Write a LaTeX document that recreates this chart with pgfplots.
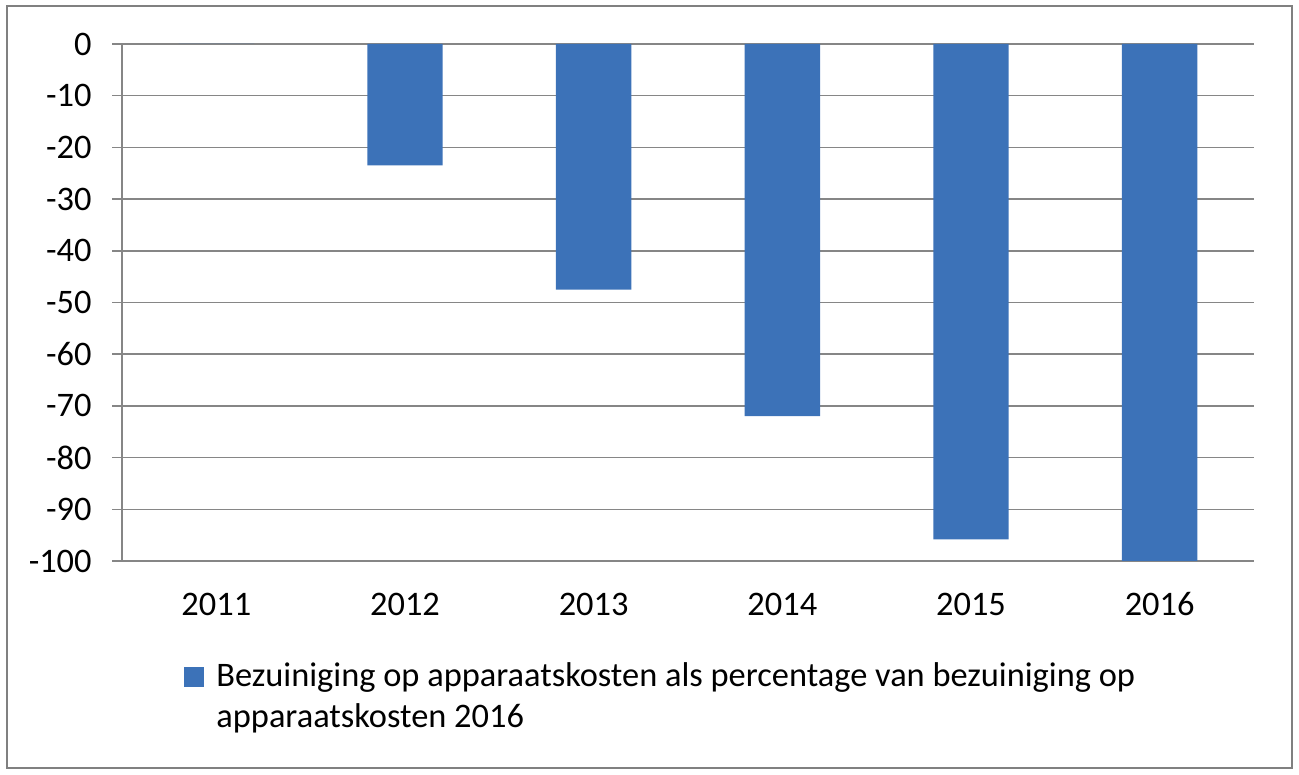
\documentclass[border=0pt]{standalone}
\usepackage{pgfplots}
\pgfplotsset{compat=1.18}
\usepackage{fontspec}
\setmainfont{Carlito}
\definecolor{barblue}{RGB}{60,114,184}
\definecolor{gridgray}{RGB}{134,134,134}
\definecolor{framegray}{RGB}{128,128,128}
\begin{document}
\fontsize{17.2bp}{20.5bp}\selectfont
\begin{tikzpicture}
\useasboundingbox (0,0) rectangle (649.5bp,387.5bp);
\draw[framegray, line width=1bp] (3.25bp,3.25bp) rectangle (645.75bp,384.5bp);
\begin{axis}[
  at={(61bp,107bp)}, anchor=south west,
  scale only axis, width=566bp, height=258.5bp,
  ybar, bar width=0.4,
  xmin=-0.5, xmax=5.5, ymin=-100, ymax=0,
  xtick={0,1,2,3,4,5},
  xticklabels={2011,2012,2013,2014,2015,2016},
  ytick={-100,-90,-80,-70,-60,-50,-40,-30,-20,-10,0},
  yticklabels={-100,-90,-80,-70,-60,-50,-40,-30,-20,-10,0},
  axis x line*=bottom, axis y line*=left,
  axis line style={-, draw=gridgray, line width=0.75bp},
  ymajorgrids, grid style={draw=gridgray, line width=0.75bp},
  tick align=outside, major tick length=5bp,
  ytick style={draw=gridgray, line width=0.75bp},
  xtick style={draw=none},
  yticklabel style={inner sep=0pt, anchor=east},
  yticklabel shift=10bp,
  xticklabel style={inner sep=0pt, anchor=base},
  xticklabel shift=22bp,
  tick label style={font=\fontsize{17.2bp}{20.5bp}\selectfont},
  legend style={at={(axis description cs:0.0548,-0.1876)}, anchor=north west,
    draw=none, fill=none, inner sep=0pt,
    font=\fontsize{17.2bp}{20.5bp}\selectfont,
    cells={anchor=north west, align=left}},
  legend image code/.code={\fill[barblue] (0bp,-14.25bp) rectangle (9.75bp,-4.5bp);\path (14bp,0bp);},
]
\addplot[fill=barblue, draw=none] coordinates {(0,0) (1,-23.5) (2,-47.5) (3,-72) (4,-95.8) (5,-100)};
\addlegendentry{Bezuiniging op apparaatskosten als percentage van bezuiniging op\\apparaatskosten 2016}
\end{axis}
\end{tikzpicture}
\end{document}
